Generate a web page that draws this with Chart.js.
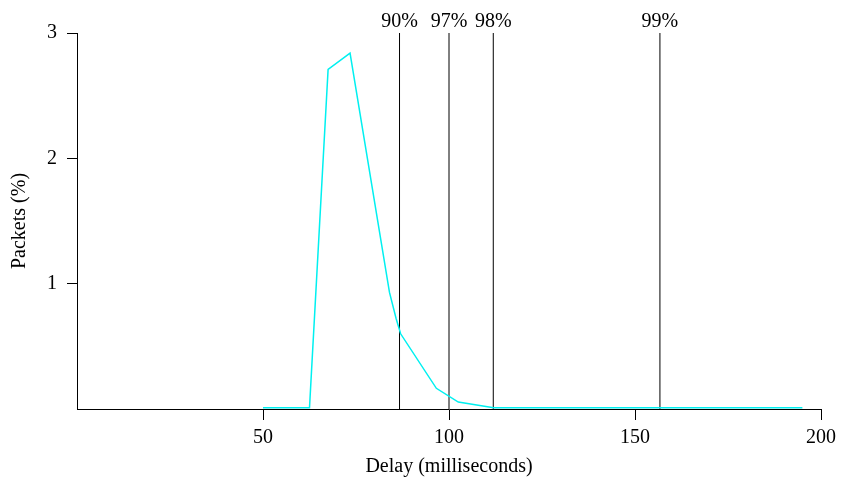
<!DOCTYPE html>
<html>
<head>
<meta charset="utf-8">
<script src="https://cdn.jsdelivr.net/npm/chart.js@4"></script>
<style>
  html, body { margin: 0; padding: 0; background: #fff; }
  #wrap { width: 841px; height: 489px; }
</style>
</head>
<body>
<div id="wrap"><canvas id="delay-chart" width="841" height="489"></canvas></div>
<script>
// delay distribution (ms -> % of packets)
const delayMs = [50, 62.5, 67.5, 73.4, 84, 85.8, 87, 96.6, 102.5, 112, 195];
const packetsPct = [0.01, 0.01, 2.71, 2.84, 0.93, 0.72, 0.6, 0.165, 0.055, 0.01, 0.01];

// percentile markers
const pctLabels = ['90%', '97%', '98%', '99%'];
const pctDelays = [86.7, 100, 111.9, 156.7];

const xTicks = [50, 100, 150, 200];
const yTicks = [1, 2, 3];

const serif = '"Liberation Serif", "DejaVu Serif", serif';

const curve = delayMs.map((d, i) => ({ x: d, y: packetsPct[i] }));

const markerSets = pctDelays.map((d, i) => ({
    label: pctLabels[i],
    data: [{ x: d, y: 0 }, { x: d, y: 3 }],
    borderColor: '#000',
    borderWidth: 1,
    pointRadius: 0
}));

// write percentile text above each marker line
const markerLabels = {
    id: 'markerLabels',
    afterDatasetsDraw(chart) {
        const ctx = chart.ctx;
        const xs = chart.scales.x;
        ctx.save();
        ctx.font = '20px ' + serif;
        ctx.fillStyle = '#000';
        ctx.textAlign = 'center';
        ctx.textBaseline = 'alphabetic';
        pctDelays.forEach((d, i) => {
            ctx.fillText(pctLabels[i], xs.getPixelForValue(d), 27);
        });
        ctx.restore();
    }
};

const ctx = document.getElementById('delay-chart').getContext('2d');
new Chart(ctx, {
    type: 'line',
    data: {
        datasets: [{
            label: 'Packets',
            data: curve,
            borderColor: '#00f0f0',
            borderWidth: 1.5,
            pointRadius: 0,
            tension: 0
        }, ...markerSets]
    },
    options: {
        responsive: false,
        animation: false,
        layout: { padding: { top: 33, right: 20, left: 0, bottom: 0 } },
        plugins: {
            legend: { display: false },
            tooltip: { enabled: false }
        },
        scales: {
            x: {
                type: 'linear',
                min: 0,
                max: 200,
                afterBuildTicks: axis => { axis.ticks = xTicks.map(v => ({ value: v })); },
                afterFit: axis => { axis.height = 80; axis.paddingRight = 0; },
                grid: { drawOnChartArea: false, drawTicks: true, tickLength: 11, color: '#000' },
                border: { display: true, color: '#000', width: 1 },
                ticks: { color: '#000', font: { family: serif, size: 20 }, padding: 6, maxRotation: 0 },
                title: {
                    display: true,
                    text: 'Delay (milliseconds)',
                    color: '#000',
                    font: { family: serif, size: 20 },
                    padding: { top: 4, bottom: 10 }
                }
            },
            y: {
                min: 0,
                max: 3,
                afterBuildTicks: axis => { axis.ticks = yTicks.map(v => ({ value: v })); },
                afterFit: axis => { axis.width = 77; },
                grid: { drawOnChartArea: false, drawTicks: true, tickLength: 10, color: '#000' },
                border: { display: true, color: '#000', width: 1 },
                ticks: { color: '#000', font: { family: serif, size: 20 }, padding: 10 },
                title: {
                    display: true,
                    text: 'Packets (%)',
                    color: '#000',
                    font: { family: serif, size: 20 },
                    padding: { top: 8, bottom: 4 }
                }
            }
        }
    },
    plugins: [markerLabels]
});
</script>
</body>
</html>
